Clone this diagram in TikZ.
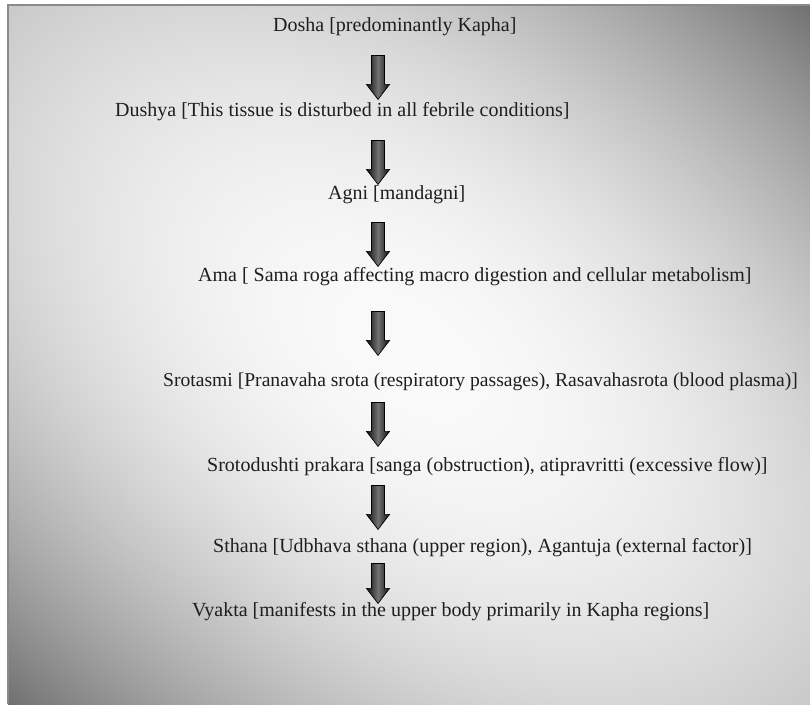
\documentclass[tikz,border=0pt]{standalone}
\usepackage{fontspec}
\setmainfont{Liberation Serif}
\usetikzlibrary{shapes.arrows,calc}
\definecolor{ink}{HTML}{1E1E1E}
\definecolor{frame}{HTML}{8A8A8A}
\pgfdeclarefunctionalshading{backdrop}{\pgfpoint{-50bp}{-50bp}}{\pgfpoint{50bp}{50bp}}{}{
  2 copy add 25 div dup mul 0.135 mul 3 1 roll sub 25 div dup mul 0.048 mul add 0.98 exch sub dup dup
}
\tikzset{
  stage/.style={anchor=west,inner sep=0pt,text=ink,font=\fontsize{20}{23}\selectfont},
  flowarrow/.style={single arrow,shape border rotate=270,draw=black,line width=0.7pt,
    minimum height=44pt,inner sep=6.2pt,single arrow head extend=5pt,single arrow tip angle=75,
    anchor=tip,left color=black!95,right color=black!95,middle color=black!55}
}
\begin{document}
\begin{tikzpicture}[x=1pt,y=-1pt]
  \useasboundingbox (0,0) rectangle (810,704);
  \shade[shading=backdrop] (8,5) rectangle (810,704);
  \draw[frame,line width=1.4pt] (810,5) -- (8,5) -- (8,704);
  \coordinate (ax) at (378,0);
  % stages
  \node[stage] (dosha) at (273,27) {Dosha [predominantly Kapha]};
  \node[stage] (dushya) at (115,112) {Dushya [This tissue is disturbed in all febrile conditions]};
  \node[stage] (agni) at (328,195) {Agni [mandagni]};
  \node[stage] (ama) at (198,277) {Ama [ Sama roga affecting macro digestion and cellular metabolism]};
  \node[stage,font=\fontsize{19.6}{23}\selectfont] (srotasmi) at (163,382) {Srotasmi [Pranavaha srota (respiratory passages), Rasavahasrota (blood plasma)]};
  \node[stage] (srotodushti) at (207,467) {Srotodushti prakara [sanga (obstruction), atipravritti (excessive flow)]};
  \node[stage] (sthana) at (213,548) {Sthana [Udbhava sthana (upper region), Agantuja (external factor)]};
  \node[stage] (vyakta) at (192,612) {Vyakta [manifests in the upper body primarily in Kapha regions]};
  % arrows, tip just above the next stage
  \path (dosha -| ax) -- (dushya -| ax) node[at end,yshift=12pt,flowarrow] {};
  \path (dushya -| ax) -- (agni -| ax) node[at end,yshift=10pt,flowarrow] {};
  \path (agni -| ax) -- (ama -| ax) node[at end,yshift=10pt,flowarrow] {};
  \path (ama -| ax) -- (srotasmi -| ax) node[at end,yshift=26pt,flowarrow] {};
  \path (srotasmi -| ax) -- (srotodushti -| ax) node[at end,yshift=20pt,flowarrow] {};
  \path (srotodushti -| ax) -- (sthana -| ax) node[at end,yshift=18pt,flowarrow] {};
  \path (sthana -| ax) -- (vyakta -| ax) node[at end,yshift=8pt,flowarrow,minimum height=40pt] {};
\end{tikzpicture}
\end{document}
